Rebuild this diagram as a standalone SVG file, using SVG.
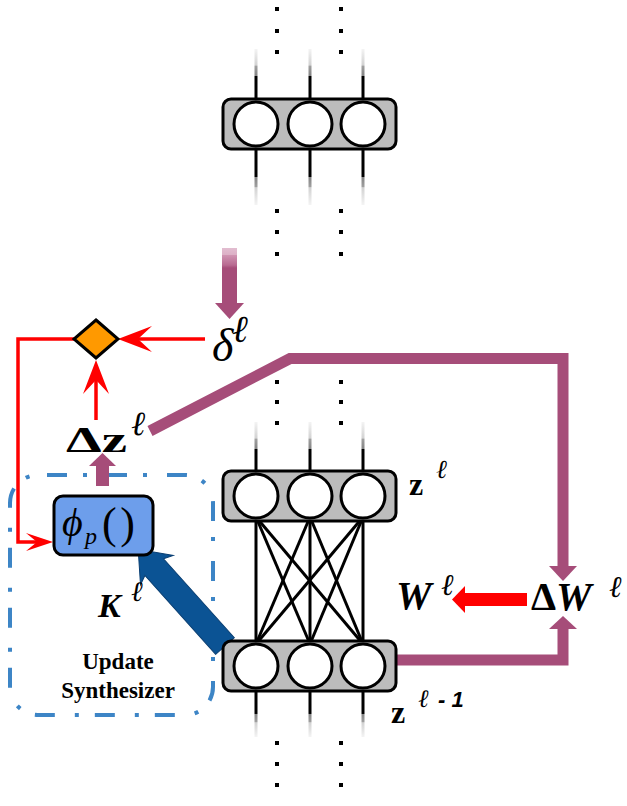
<svg xmlns="http://www.w3.org/2000/svg" width="627" height="806" viewBox="0 0 627 806">
<style>
.dot{fill:#000}
.box{fill:#bcbcbc;stroke:#000;stroke-width:3}
.neuron{fill:#fff;stroke:#000;stroke-width:3}
.w{stroke:#000;stroke-width:3;fill:none}
.red{stroke:#ff0000;stroke-width:3.5;fill:none}
.pink{stroke:#a64d79;stroke-width:11;fill:none}
.pinkf{fill:#a64d79}
.serif{font-family:"Liberation Serif","DejaVu Serif",serif}
.sans{font-family:"Liberation Sans","DejaVu Sans",sans-serif}
.it{font-style:italic}
.b{font-weight:bold}
</style>
<defs>
<linearGradient id="fadeTop" x1="0" y1="0" x2="0" y2="1">
<stop offset="0" stop-color="#f4f4f4"/>
<stop offset="0.32" stop-color="#d2d2d2"/>
<stop offset="0.33" stop-color="#a0a0a0"/>
<stop offset="0.52" stop-color="#858585"/>
<stop offset="0.53" stop-color="#000"/>
<stop offset="1" stop-color="#000"/>
</linearGradient>
<linearGradient id="fadeBot" x1="0" y1="1" x2="0" y2="0">
<stop offset="0" stop-color="#f4f4f4"/>
<stop offset="0.3" stop-color="#d2d2d2"/>
<stop offset="0.31" stop-color="#a0a0a0"/>
<stop offset="0.48" stop-color="#858585"/>
<stop offset="0.49" stop-color="#000"/>
<stop offset="1" stop-color="#000"/>
</linearGradient>
<linearGradient id="pinkFade" x1="0" y1="0" x2="0" y2="1">
<stop offset="0" stop-color="#e2bdd0"/>
<stop offset="0.12" stop-color="#dcb0c6"/>
<stop offset="0.13" stop-color="#cf93b1"/>
<stop offset="0.3" stop-color="#b86a91"/>
<stop offset="0.35" stop-color="#a64d79"/>
<stop offset="1" stop-color="#a64d79"/>
</linearGradient>
<marker id="redHead" markerUnits="userSpaceOnUse" viewBox="0 0 34 26" markerWidth="34" markerHeight="26" refX="14" refY="13" orient="auto">
<path d="M0,0 L34,13 L0,26 L14,13 Z" fill="#ff0000"/>
</marker>
<marker id="redHeadSmall" markerUnits="userSpaceOnUse" viewBox="0 0 27 18" markerWidth="27" markerHeight="18" refX="11" refY="9" orient="auto">
<path d="M0,0 L27,9 L0,18 L11,9 Z" fill="#ff0000"/>
</marker>
<g id="layerTpl">
<rect class="box" x="0" y="0" width="173" height="50" rx="8"/>
<circle class="neuron" cx="33" cy="25" r="22"/>
<circle class="neuron" cx="87" cy="25" r="22"/>
<circle class="neuron" cx="140" cy="25" r="22"/>
</g>
</defs>

<!-- Update synthesizer region -->
<g id="update-synthesizer">
<rect x="10" y="475" width="203" height="240" rx="28" fill="none" stroke="#3d85c6" stroke-width="4" stroke-dasharray="20 16 4 20" stroke-dashoffset="51"/>
<text class="serif b" x="118" y="669" font-size="23" text-anchor="middle">Update</text>
<text class="serif b" x="118" y="698" font-size="23" text-anchor="middle">Synthesizer</text>
</g>

<g id="connectors">
<g class="dot">
<rect x="275" y="7" width="4" height="4"/><rect x="339" y="7" width="4" height="4"/>
<rect x="275" y="29" width="4" height="4"/><rect x="339" y="29" width="4" height="4"/>
<rect x="275" y="50" width="4" height="4"/><rect x="339" y="50" width="4" height="4"/>
<rect x="275" y="209" width="4" height="4"/><rect x="339" y="209" width="4" height="4"/>
<rect x="275" y="230" width="4" height="4"/><rect x="339" y="230" width="4" height="4"/>
<rect x="275" y="252" width="4" height="4"/><rect x="339" y="252" width="4" height="4"/>
<rect x="275" y="380" width="4" height="4"/><rect x="339" y="380" width="4" height="4"/>
<rect x="275" y="400" width="4" height="4"/><rect x="339" y="400" width="4" height="4"/>
<rect x="275" y="421" width="4" height="4"/><rect x="339" y="421" width="4" height="4"/>
<rect x="275" y="741" width="4" height="4"/><rect x="339" y="741" width="4" height="4"/>
<rect x="275" y="762" width="4" height="4"/><rect x="339" y="762" width="4" height="4"/>
<rect x="275" y="783" width="4" height="4"/><rect x="339" y="783" width="4" height="4"/>
</g>
<g fill="url(#fadeTop)">
<rect x="254.5" y="49" width="3" height="51"/><rect x="308.5" y="49" width="3" height="51"/><rect x="361.5" y="49" width="3" height="51"/>
<rect x="254.5" y="422" width="3" height="51"/><rect x="308.5" y="422" width="3" height="51"/><rect x="361.5" y="422" width="3" height="51"/>
</g>
<g fill="url(#fadeBot)">
<rect x="254.5" y="147" width="3" height="58"/><rect x="308.5" y="147" width="3" height="58"/><rect x="361.5" y="147" width="3" height="58"/>
<rect x="254.5" y="689" width="3" height="48"/><rect x="308.5" y="689" width="3" height="48"/><rect x="361.5" y="689" width="3" height="48"/>
</g>
<g class="w">
<line x1="256" y1="517" x2="256" y2="644"/><line x1="256" y1="517" x2="310" y2="644"/><line x1="256" y1="517" x2="363" y2="644"/>
<line x1="310" y1="517" x2="256" y2="644"/><line x1="310" y1="517" x2="310" y2="644"/><line x1="310" y1="517" x2="363" y2="644"/>
<line x1="363" y1="517" x2="256" y2="644"/><line x1="363" y1="517" x2="310" y2="644"/><line x1="363" y1="517" x2="363" y2="644"/>
</g>
<rect x="222" y="248" width="15" height="57" fill="url(#pinkFade)"/>
<polygon class="pinkf" points="215,303 244,303 229.5,319"/>
<polyline class="pink" points="150,431 290,358.5 563,358.5 563,568"/>
<polygon class="pinkf" points="549,566 577,566 563,581"/>
<polyline class="pink" points="396,660 563,660 563,627"/>
<polygon class="pinkf" points="549,629 577,629 563,616"/>
<rect x="96" y="464" width="13" height="22" class="pinkf"/>
<polygon class="pinkf" points="89,466 116,466 102.5,453"/>
<line class="red" x1="205" y1="339" x2="138" y2="339" marker-end="url(#redHead)"/>
<line class="red" x1="96" y1="420" x2="96" y2="380" marker-end="url(#redHead)"/>
<polyline class="red" points="74,339 18,339 18,542 37,542" marker-end="url(#redHeadSmall)"/>
<rect x="465" y="593" width="62" height="13" fill="#ff0000"/>
<polygon points="465,586 465,613 452,599.5" fill="#ff0000"/>
<polygon points="0,-12.5 106,-12.5 102,-22 130,0 102,22 106,12.5 0,12.5" fill="#0b5394" stroke="#0a3f73" stroke-width="1" transform="translate(225,646) rotate(-131.9)"/>
</g>

<g id="layer-top"><use href="#layerTpl" x="223" y="99"/></g>
<g id="layer-z"><use href="#layerTpl" x="223" y="471"/></g>
<g id="layer-z-prev"><use href="#layerTpl" x="223" y="641"/></g>

<g id="merge">
<polygon points="96,320 118,339 96,358 74,339" fill="#ff9900" stroke="#000" stroke-width="3" stroke-linejoin="miter"/>
</g>

<g id="phi">
<rect x="54" y="496" width="99" height="59" rx="9" fill="#6d9eeb" stroke="#000" stroke-width="3"/>
<text class="serif it" x="62" y="536" font-size="40">ϕ</text>
<text class="serif it" x="85" y="544" font-size="24">p</text>
<text class="serif" x="102" y="538" font-size="44" textLength="33" lengthAdjust="spacing">()</text>
</g>

<g id="labels">
<text class="serif it" x="212" y="361" font-size="46">δ</text>
<text class="serif it" x="232" y="342" font-size="38">ℓ</text>
<text class="serif b" x="66" y="452" font-size="36" textLength="61" lengthAdjust="spacingAndGlyphs">Δz</text>
<text class="serif it" x="131" y="435" font-size="34">ℓ</text>
<text class="serif b it" x="98" y="617" font-size="34">K</text>
<text class="serif it" x="131" y="601" font-size="28">ℓ</text>
<text class="serif b" x="409" y="495" font-size="32">z</text>
<text class="serif it" x="436" y="478" font-size="26">ℓ</text>
<text class="serif b" x="391" y="723" font-size="32">z</text>
<text class="serif it" x="418" y="707" font-size="25">ℓ</text>
<text class="sans b it" x="438" y="707" font-size="22">- 1</text>
<text class="serif b it" x="396" y="609" font-size="40">W</text>
<text class="serif it" x="441" y="595" font-size="30">ℓ</text>
<text class="serif b" x="531" y="610" font-size="40">Δ<tspan class="it">W</tspan></text>
<text class="serif it" x="609" y="597" font-size="30">ℓ</text>
</g>
</svg>
